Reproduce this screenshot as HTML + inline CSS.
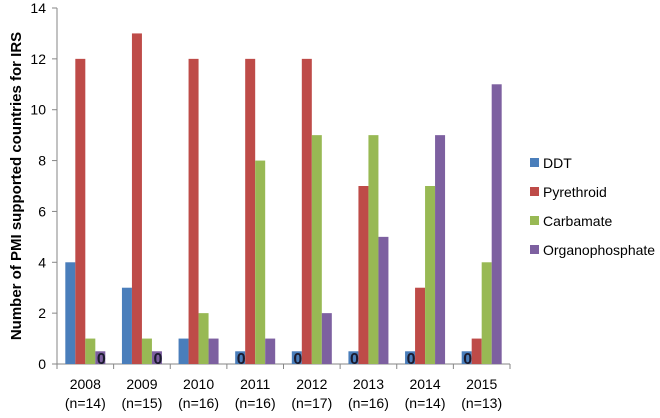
<!DOCTYPE html>
<html><head><meta charset="utf-8"><style>
body{margin:0;background:#fff;font-family:"Liberation Sans",sans-serif}
svg text{font-family:"Liberation Sans",sans-serif}
</style></head><body>
<svg id="c" width="660" height="413"></svg>
<script>
const categories=["2008","2009","2010","2011","2012","2013","2014","2015"];
const nLabels=["(n=14)","(n=15)","(n=16)","(n=16)","(n=17)","(n=16)","(n=14)","(n=13)"];
const seriesNames=["DDT","Pyrethroid","Carbamate","Organophosphate"];
const ddt=[4,3,1,0,0,0,0,0];
const pyrethroid=[12,13,12,12,12,7,3,1];
const carbamate=[1,1,2,8,9,9,7,4];
const organophosphate=[0,0,1,1,2,5,9,11];
const yTicks=[0,2,4,6,8,10,12,14];
const colors=["#4a7ebb","#be4b48","#98b954","#7d60a0"];
const NS="http://www.w3.org/2000/svg";
const svg=document.getElementById("c");
const X0=57,X1=510,Y0=364,Y1=8,YMAX=14;
const gw=(X1-X0)/categories.length, bw=10;
function y(v){return Y0-(v/YMAX)*(Y0-Y1);}
function el(t,a,txt){const e=document.createElementNS(NS,t);for(const k in a)e.setAttribute(k,a[k]);if(txt!==undefined)e.textContent=txt;svg.appendChild(e);return e;}
let ax=el("line",{x1:X0,y1:Y1,x2:X0,y2:Y0,stroke:"#868686"});


yTicks.forEach(t=>{
 let tk=el("line",{x1:X0-5,y1:y(t),x2:X0,y2:y(t),stroke:"#868686"});
 
 
 let l=el("text",{x:X0-11,y:y(t)+5,"text-anchor":"end","font-size":"14"},t);
 
 
});
let xa=el("line",{x1:X0,y1:Y0,x2:X1,y2:Y0,stroke:"#868686"});


for(let i=0;i<=categories.length;i++){
 let tk=el("line",{x1:X0+i*gw,y1:Y0,x2:X0+i*gw,y2:Y0+5,stroke:"#868686"});
 
 
}
const series=[ddt,pyrethroid,carbamate,organophosphate];
categories.forEach((c,i)=>{
 const gx=X0+i*gw+(gw-4*bw)/2;
 series.forEach((s,j)=>{
  const v=s[i]===0?0.5:s[i];
  const r=el("rect",{x:gx+j*bw,y:y(v),width:bw,height:Y0-y(v),fill:colors[j]});
  
  
  if(s[i]===0){
   const z=el("text",{x:gx+j*bw+bw/2+1,y:Y0,"text-anchor":"middle","font-size":"16","font-weight":"bold",fill:"#1a1a2e"},"0");
   
   
  }
 });
 const cx=X0+i*gw+gw/2;
 const t1=el("text",{x:cx,y:389,"text-anchor":"middle","font-size":"14"},c);
 
 
 const t2=el("text",{x:cx,y:408,"text-anchor":"middle","font-size":"14"},nLabels[i]);
 
 
});
const yt=el("text",{x:0,y:0,transform:"translate(21,186) rotate(-90)","text-anchor":"middle","font-size":"15","font-weight":"bold"},"Number of PMI supported countries for IRS");


seriesNames.forEach((n,j)=>{
 const ly=163+j*29;
 const sq=el("rect",{x:530,y:ly-5,width:9,height:9,fill:colors[j]});
 
 
 const lt=el("text",{x:543,y:ly+5,"font-size":"14"},n);
 
 
});
</script>
</body></html>
